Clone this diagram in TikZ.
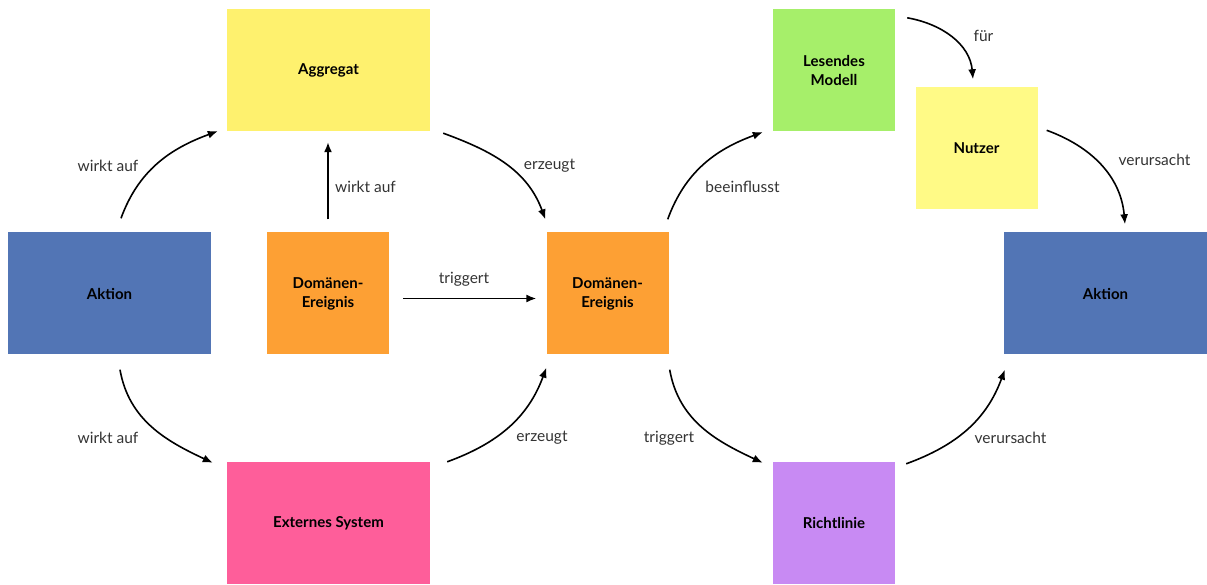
\documentclass[tikz,border=0pt]{standalone}
\usepackage{fontspec}
\setmainfont{Lato}
\usetikzlibrary{arrows.meta,calc}
\definecolor{cAggr}{HTML}{FEF16E}
\definecolor{cAkt}{HTML}{5275B5}
\definecolor{cEvt}{HTML}{FDA034}
\definecolor{cExt}{HTML}{FE5E9A}
\definecolor{cRead}{HTML}{A6EF6A}
\definecolor{cUser}{HTML}{FFFA86}
\definecolor{cPol}{HTML}{C88AF3}
\definecolor{cLbl}{HTML}{333333}
\begin{document}
\begin{tikzpicture}[x=1pt,y=1pt,
  sticky/.style={inner sep=0pt, align=center, font=\fontsize{15}{19}\selectfont\bfseries},
  wide/.style={sticky, minimum width=203pt, minimum height=122pt},
  square/.style={sticky, minimum width=122pt, minimum height=122pt},
  lbl/.style={text=cLbl, inner sep=0pt, font=\fontsize{15.5}{18}\selectfont},
  flow/.style={line width=1.6pt, -{Latex[length=10pt,width=8pt]}}]
\useasboundingbox (0,0) rectangle (1207,584);

% sticky notes
\node[wide, fill=cAggr] (aggr) at (328.5,514) {Aggregat};
\node[wide, fill=cAkt] (aktL) at (109.5,290.5) {Aktion};
\node[square, fill=cEvt] (evt1) at (328,290.5) {Domänen-\\Ereignis};
\node[square, fill=cEvt] (evt2) at (607.5,290.5) {Domänen-\\Ereignis};
\node[wide, fill=cExt] (ext) at (328.5,61) {Externes System};
\node[square, fill=cRead] (read) at (834,514) {Lesendes\\Modell};
\node[square, fill=cUser] (user) at (976.5,435.5) {Nutzer};
\node[wide, fill=cAkt] (aktR) at (1105.5,290.5) {Aktion};
\node[square, fill=cPol] (pol) at (834,61) {Richtlinie};

% connectors
\draw[flow] ($(aktL.north)+(11.5,14)$) to[out=70,in=200] ($(aggr.south west)+(-9,0)$);
\draw[flow] ($(evt1.north)+(0,13)$) -- ($(aggr.south)+(-0.5,-11)$);
\draw[flow] ($(aggr.south east)+(13,-2)$) to[out=-20,in=110] ($(evt2.north west)+(-1,13)$);
\draw[flow] ($(evt1.east)+(14,-5)$) -- ($(evt2.west)+(-10,-5)$);
\draw[flow] ($(aktL.south)+(10.5,-15)$) to[out=-80,in=155] ($(ext.north west)+(-14,-1)$);
\draw[flow] ($(ext.north east)+(17,0)$) to[out=20,in=-110] ($(evt2.south west)+(0,-13)$);
\draw[flow] ($(evt2.north east)+(-1,13)$) to[out=70,in=200] ($(read.south west)+(-10,-1)$);
\draw[flow] ($(evt2.south east)+(1,-15)$) to[out=-80,in=155] ($(pol.north west)+(-10,-1)$);
\draw[flow] ($(pol.north east)+(11,-2)$) to[out=20,in=-110] ($(aktR.south west)+(1,-15)$);
\draw[flow] ($(read.north east)+(12,-9)$) to[out=-10,in=95] ($(user.north)+(-3.5,8)$);
\draw[flow] ($(user.north east)+(9,-43)$) to[out=-20,in=95] ($(aktR.north)+(19.5,8)$);

% connector labels
\node[lbl] (l1) at (108,418) {wirkt auf};
\node[lbl] (l2) at (365.5,397) {wirkt auf};
\node[lbl] (l3) at (549.5,418) {erzeugt};
\node[lbl] (l4) at (464,305) {triggert};
\node[lbl] (l5) at (108,146) {wirkt auf};
\node[lbl] (l6) at (542,146) {erzeugt};
\node[lbl] (l7) at (742.5,397) {beeinflusst};
\node[lbl] (l8) at (669,146) {triggert};
\node[lbl] (l9) at (1010.5,146) {verursacht};
\node[lbl] (l10) at (983.5,548) {für};
\node[lbl] (l11) at (1154.5,424) {verursacht};
\end{tikzpicture}
\end{document}
